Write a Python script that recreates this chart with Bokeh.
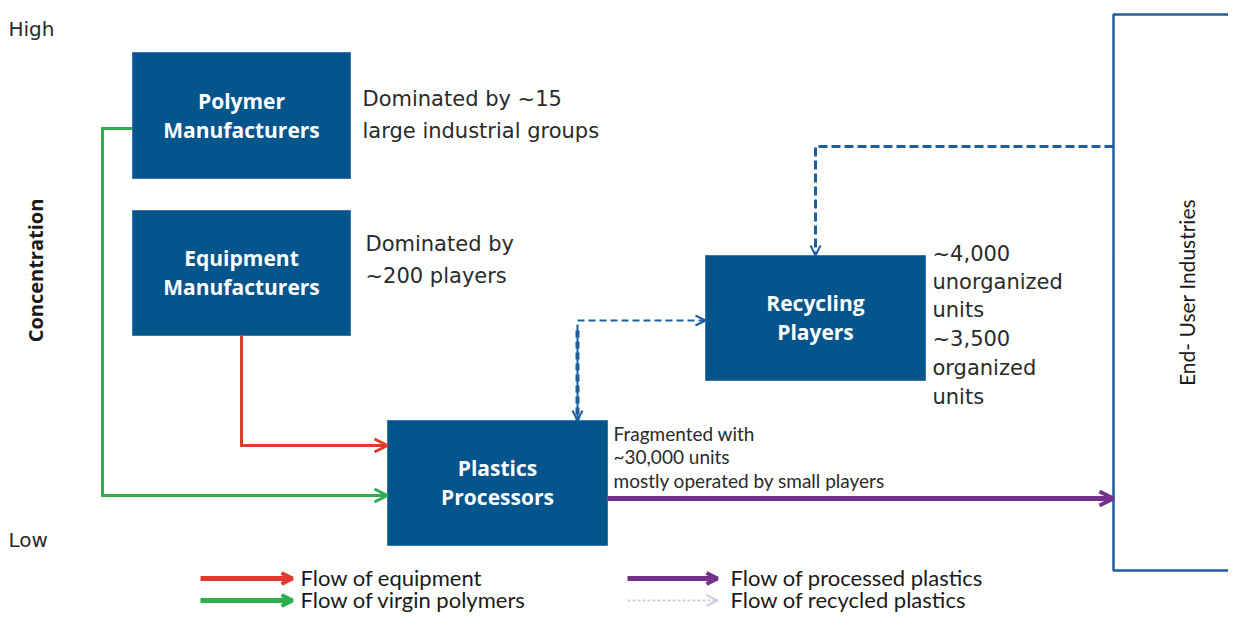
import math
from bokeh.plotting import figure
from bokeh.models import Range1d, Arrow, OpenHead
from bokeh.core.properties import value
from bokeh.embed import file_html
from bokeh.resources import INLINE

# ---------------- data ----------------
box_names = ["Polymer\nManufacturers", "Equipment\nManufacturers", "Recycling\nPlayers", "Plastics\nProcessors"]
box_left = [132, 132, 705, 387]
box_right = [350, 350, 925, 607]
box_top = [52, 210, 255, 420]
box_bottom = [178, 335, 380, 545]

end_user_label = "End- User Industries"
axis_high = "High"
axis_low = "Low"
axis_title = "Concentration"

notes_big = ["Dominated by ~15", "large industrial groups",
             "Dominated by", "~200 players",
             "~4,000", "unorganized", "units", "~3,500", "organized", "units"]
notes_big_x = [362, 362, 365, 365, 932, 932, 932, 932, 932, 932]
notes_big_y = [98, 130, 243, 275, 253, 281, 309, 338, 367, 396]

notes_small = ["Fragmented with", "~30,000 units", "mostly operated by small players"]
notes_small_x = [613, 613, 613]
notes_small_y = [433, 456, 480]

legend_labels = ["Flow of equipment", "Flow of virgin polymers", "Flow of processed plastics", "Flow of recycled plastics"]
legend_colors = ["#e2392d", "#2fae4e", "#74308b", "#c9d0dc"]
legend_x0 = [200, 200, 627, 627]
legend_x1 = [292, 292, 717, 717]
legend_y = [578, 600, 578, 600]

# flows (paths)
flow_green_x = [132, 102, 102, 387]
flow_green_y = [128, 128, 495, 495]
flow_red_x = [241, 241, 387]
flow_red_y = [335, 445, 445]
flow_purple_x = [607, 1113]
flow_purple_y = [498, 498]
flow_rec1_x = [1113, 815, 815]
flow_rec1_y = [146, 146, 255]
flow_rec2_x = [705, 577, 577]
flow_rec2_y = [320, 320, 420]

BOX = "#03558c"
TXT = "#2a2a2a"
BLUE = "#1d5e9b"

p = figure(width=1228, height=616, x_range=Range1d(0, 1228), y_range=Range1d(616, 0),
           output_backend="svg", toolbar_location=None, min_border=0)
p.axis.visible = False
p.grid.visible = False
p.outline_line_color = None
p.background_fill_color = "white"

# End-user box
p.quad(left=[1113], right=[1260], top=[14], bottom=[570], fill_color="white",
       line_color=BLUE, line_width=2.5)
p.text(x=[1186], y=[292], text=[end_user_label], angle=math.pi / 2, text_align="center",
       text_baseline="middle", text_font=value("Lato"), text_font_size="21px",
       text_color="#1a1a1a")

# boxes
p.quad(left=box_left, right=box_right, top=box_top, bottom=box_bottom,
       fill_color=BOX, line_color="#3b77a8", line_width=1)
cx = [(a + b) / 2 for a, b in zip(box_left, box_right)]
cy = [(a + b) / 2 for a, b in zip(box_top, box_bottom)]
l1 = [n.split("\n")[0] for n in box_names]
l2 = [n.split("\n")[1] for n in box_names]
p.text(x=cx, y=[c - 15 for c in cy], text=l1, text_align="center", text_baseline="middle",
       text_font=value("Open Sans"), text_font_style="bold", text_font_size="21px", text_color="white")
p.text(x=cx, y=[c + 14 for c in cy], text=l2, text_align="center", text_baseline="middle",
       text_font=value("Open Sans"), text_font_style="bold", text_font_size="21px", text_color="white")

# axis labels
p.text(x=[8, 8], y=[28, 539], text=[axis_high, axis_low], text_baseline="middle",
       text_font=value("DejaVu Sans"), text_font_size="20px", text_color=TXT)
p.text(x=[35], y=[270], text=[axis_title], angle=math.pi / 2, text_align="center",
       text_baseline="middle", text_font=value("Open Sans"), text_font_style="bold",
       text_font_size="20px", text_color="#1a1a1a")

# notes
p.text(x=notes_big_x, y=notes_big_y, text=notes_big, text_baseline="middle",
       text_font=value("DejaVu Sans"), text_font_size="21px", text_color=TXT)
p.text(x=notes_small_x, y=notes_small_y, text=notes_small, text_baseline="middle",
       text_font=value("Lato"), text_font_size="19px", text_color=TXT)


def flow(xs, ys, color, width, dash="solid", head_size=13, head_width=3):
    p.line(x=xs, y=ys, line_color=color, line_width=width, line_dash=dash, line_join="miter")
    p.add_layout(Arrow(end=OpenHead(size=head_size, line_color=color, line_width=head_width),
                       x_start=xs[-2], y_start=ys[-2], x_end=xs[-1], y_end=ys[-1],
                       line_alpha=0))


flow(flow_green_x, flow_green_y, "#2fae4e", 3)
flow(flow_red_x, flow_red_y, "#e2392d", 3)
flow(flow_purple_x, flow_purple_y, "#74308b", 5, head_size=14, head_width=4)
flow(flow_rec1_x, flow_rec1_y, BLUE, 3, dash="9 4", head_size=10, head_width=2)
flow(flow_rec2_x, flow_rec2_y, BLUE, 2, dash="7 4", head_size=10, head_width=2)
p.line(x=[flow_rec2_x[1], flow_rec2_x[2]], y=[330, flow_rec2_y[2]], line_color=BLUE, line_width=4, line_dash="7 4")
p.add_layout(Arrow(end=OpenHead(size=10, line_color=BLUE, line_width=2),
                   x_start=flow_rec2_x[0] - 20, y_start=flow_rec2_y[0], x_end=flow_rec2_x[0], y_end=flow_rec2_y[0],
                   line_alpha=0))

# legend
for i in range(4):
    dash = "3 2" if i == 3 else "solid"
    lw = 2 if i == 3 else 5
    p.line(x=[legend_x0[i], legend_x1[i]], y=[legend_y[i], legend_y[i]], line_color=legend_colors[i],
           line_width=lw, line_dash=dash)
    p.add_layout(Arrow(end=OpenHead(size=11, line_color=legend_colors[i], line_width=4 if i != 3 else 2),
                       x_start=legend_x0[i], y_start=legend_y[i], x_end=legend_x1[i], y_end=legend_y[i],
                       line_alpha=0))
p.text(x=[legend_x1[i] + 8 if i < 2 else legend_x1[i] + 13 for i in range(4)], y=[y - 1 for y in legend_y],
       text=legend_labels, text_baseline="middle", text_font=value("Lato"),
       text_font_size="22px", text_color="#1a1a1a")

open("out.html", "w").write(file_html(p, INLINE))
